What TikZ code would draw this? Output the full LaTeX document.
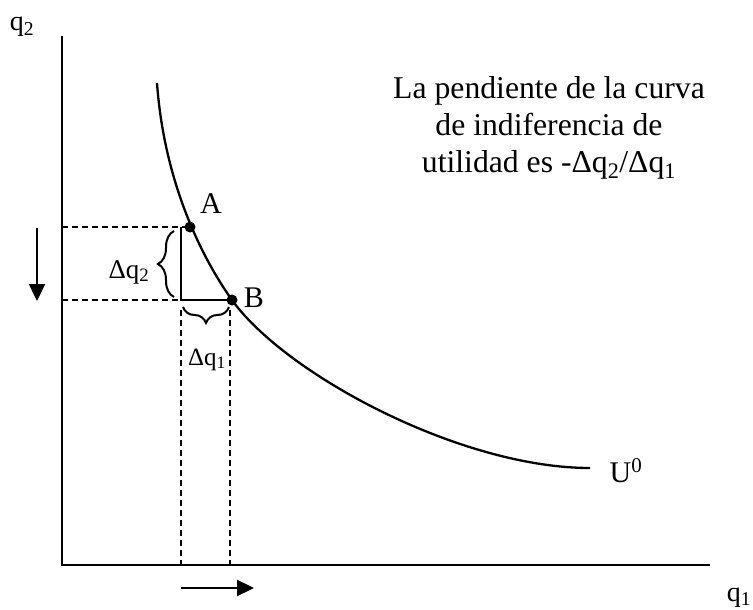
\documentclass[tikz,border=0pt]{standalone}
\usepackage{fontspec}
\setmainfont{Liberation Serif}
\usetikzlibrary{arrows.meta,decorations.pathreplacing}

\begin{document}
\begin{tikzpicture}[x=1pt,y=-1pt,
  axis/.style={line width=2.4pt},
  guide/.style={line width=1.7pt,dash pattern=on 6pt off 4pt},
  curve/.style={line width=2.3pt},
  lbl/.style={inner sep=0pt,anchor=base,font=\fontsize{30}{34}\selectfont},
  brc/.style={decorate,decoration={brace,amplitude=#1},line width=2pt},
  arr/.style={-{Triangle[length=17pt,width=16pt]},line width=2.3pt}
]
\useasboundingbox (0,0) rectangle (753,610);

% axes
\coordinate (O) at (62,565);
\coordinate (Ytop) at (62,36);
\coordinate (Xend) at (710,565);
\draw[axis] (Ytop) -- (O) -- (Xend);
\node[lbl,font=\fontsize{28}{32}\selectfont] (lblqtwo) at (22,31) {q\textsubscript{2}};
\node[lbl,font=\fontsize{28}{32}\selectfont] (lblqone) at (739,601) {q\textsubscript{1}};

% indifference curve
\coordinate (A) at (190,227);
\coordinate (B) at (232,300);
\draw[curve] (157,83) .. controls (164,180) and (200,255) .. (B)
  .. controls (285,374) and (460,468) .. (590,468);
\node[lbl] (lblU) at (626,482) {U\textsuperscript{0}};

% points A and B
\coordinate (C) at (181,300);
\coordinate (Ay) at (62,227);
\coordinate (By) at (62,300);
\coordinate (Cx) at (181,565);
\coordinate (Bx) at (230,565);
\fill (A) circle (5.5pt);
\fill (B) circle (5.5pt);
\node[lbl] (lblA) at (211,213) {A};
\node[lbl] (lblB) at (254,307) {B};

% guide lines
\draw[guide] (Ay) -- (A);
\draw[guide] (By) -- (C);
\draw[guide] (C |- 0,310) -- (Cx);
\draw[guide] (230,310) -- (Bx);
\draw[line width=2pt] (C |- A) -- (C) -- (B);

% changes
\draw[brc=16pt] (174,297) -- (174,231);
\node[lbl,font=\fontsize{27}{31}\selectfont] (lblDqtwo) at (129,278) {Δq\textsubscript{2}};
\draw[brc=16pt] (229,307) -- (183,307);
\node[lbl,font=\fontsize{25}{29}\selectfont] (lblDqone) at (207,365) {Δq\textsubscript{1}};

% direction arrows
\coordinate (d1) at (37,228);
\coordinate (d2) at (37,301);
\draw[arr] (d1) -- (d2);
\coordinate (r1) at (181,588);
\coordinate (r2) at (254,588);
\draw[arr] (r1) -- (r2);

\node[inner sep=0pt,align=center,font=\fontsize{31.7}{37}\selectfont] (note) at (549,128)
  {La pendiente de la curva\\de indiferencia de\\utilidad es -Δq\textsubscript{2}/Δq\textsubscript{1}};
\end{tikzpicture}
\end{document}
